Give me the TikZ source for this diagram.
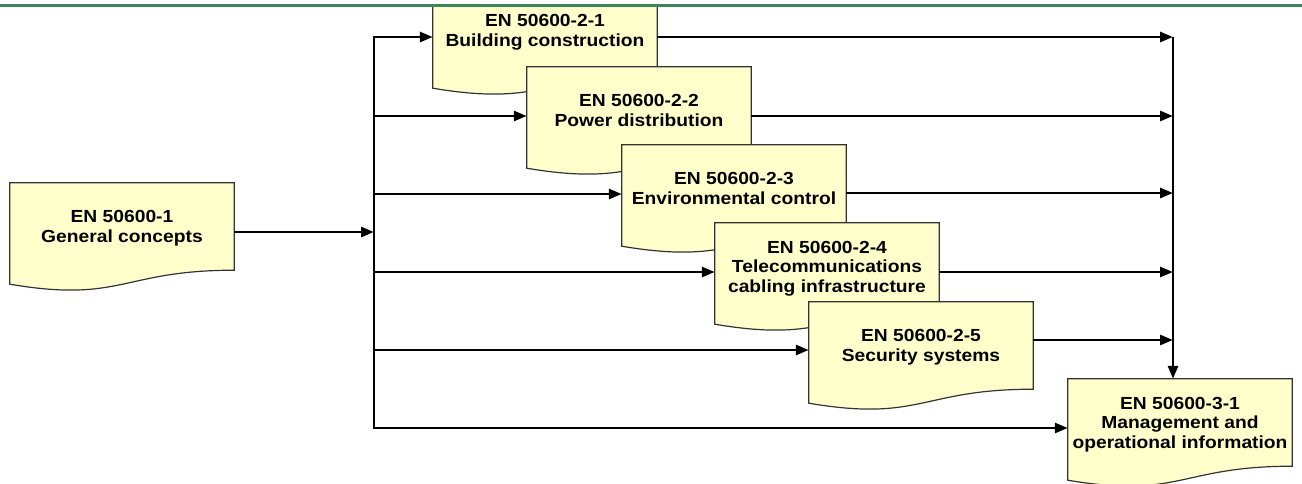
\documentclass[tikz,border=0pt]{standalone}
\usepackage{fontspec}
\setmainfont{Liberation Sans}[FakeStretch=1.1]
\usetikzlibrary{arrows.meta,calc,backgrounds}

\definecolor{docyellow}{RGB}{255,255,204}
\definecolor{headgreen}{RGB}{61,133,90}

\tikzset{
	docbox/.style={rectangle, minimum width=224pt, minimum height=87pt, inner sep=0pt, align=center, text depth=-2pt, font=\bfseries\fontsize{17.5}{19.5}\selectfont},
	flow/.style={->, line width=2.8pt},
	>={Triangle[length=13pt, width=10pt]}
}

% document shape with wavy bottom, drawn behind the node text
\newcommand{\docshape}[1]{%
	\begin{pgfonlayer}{background}
		\draw[fill=docyellow, draw=black!80, line width=1.2pt] (#1.north west) -- (#1.north east) -- (#1.south east)
			.. controls (#1.south) and ($(#1.south)+(0,33)$) .. ($(#1.south west)+(0,14)$) -- cycle;
	\end{pgfonlayer}}

\begin{document}
\begin{tikzpicture}[x=1pt, y=-1pt]
			\useasboundingbox (0,0) rectangle (1302,483);

			\node[docbox] (gen) at (122,226.5) {EN 50600-1\\General concepts};
			\docshape{gen}
			\node[docbox] (b21) at (545,30.5) {EN 50600-2-1\\Building construction};
			\docshape{b21}
			\node[docbox] (b22) at (639,110.5) {EN 50600-2-2\\Power distribution};
			\docshape{b22}
			\node[docbox] (b23) at (734,188.5) {EN 50600-2-3\\Environmental control};
			\docshape{b23}
			\node[docbox] (b24) at (827,266.5) {EN 50600-2-4\\Telecommunications\\cabling infrastructure};
			\docshape{b24}
			\node[docbox] (b25) at (921,345.5) {EN 50600-2-5\\Security systems};
			\docshape{b25}
			\node[docbox] (b31) at (1180,422.5) {EN 50600-3-1\\Management and\\operational information};
			\docshape{b31}

			% left distribution line
			\coordinate (hub) at (374,232);
			\coordinate (top) at (374,37);
			\coordinate (bot) at (374,428);
			\draw[flow] (hub -| gen.east) -- (hub);
			\draw[flow, <->] (bot -| b31.west) -- (bot) -- (top) -- (top -| b21.west);
			\foreach \n/\y in {b22/116, b23/194, b24/272, b25/350}
				\draw[flow] (374,\y) -- (\n.west |- 0,\y);

			% right collecting line
			\coordinate (rtop) at (1173,37);
			\draw[flow] (rtop) -- (rtop |- b31.north);
			\foreach \n/\y in {b21/37, b22/116, b23/193, b24/272, b25/340}
				\draw[flow] (\n.east |- 0,\y) -- (1173,\y);

			% header rule
			\fill[white] (0,-20) rectangle (1302,4);
			\draw[headgreen, line width=2.6pt] (0,5.3) -- (1302,5.3);
		\end{tikzpicture}
\end{document}
